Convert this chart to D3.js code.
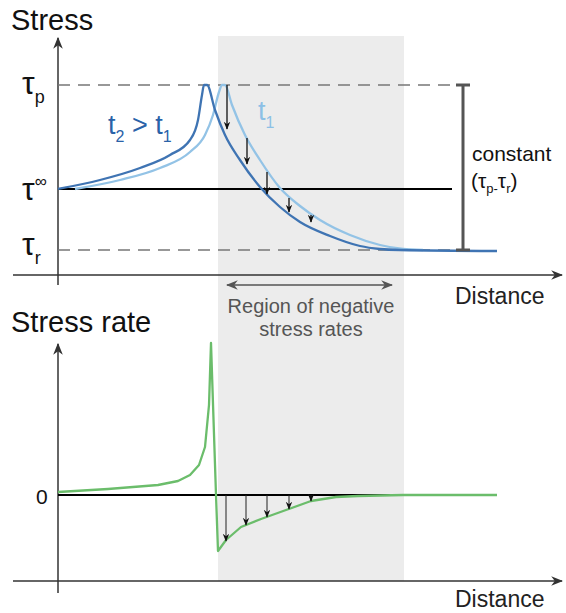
<!DOCTYPE html>
<html><head><meta charset="utf-8">
<script src="https://cdn.jsdelivr.net/npm/d3@7"></script>
<style>body{margin:0;background:#fff}text{font-family:"Liberation Sans",Arial,sans-serif}</style>
</head><body>
<script>
// distance is in arbitrary units, stress and rate too
var stressT2 = [[0,61],[42,70],[82,82],[112,95],[132,110],[140,130],[144,155],[146,165],[149,165],[157,140],[167,115],[182,90],[202,63],[222,43],[242,28],[272,14],[302,4],[322,1],[342,0],[439,-1]];
var stressT1 = [[17,61],[62,70],[102,82],[132,98],[147,115],[155,135],[161,158],[164,165],[167,165],[174,145],[187,115],[202,90],[222,62],[242,44],[262,30],[292,15],[322,5],[345,1],[365,0]];
var stressArrows = [[169,165,121],[189,112,86],[209,78,56],[231,52,38],[253,35,28]];
var rate = [[0,3],[50,6],[100,10],[120,14],[132,20],[141,30],[147,48],[151,90],[153,152],[158,0],[160,-56],[168,-45],[183,-32],[203,-24],[228,-15],[253,-6],[278,-2],[300,-1],[345,0],[439,0]];
var rateArrows = [[168,0,-46],[188,0,-30],[209,0,-22],[231,0,-14],[253,0,-6]];
var levels = {tauP:165, tauInf:61, tauR:0};
var region = [160,346];

var svg = d3.select("body").append("svg").attr("width",566).attr("height",613);
var x = d3.scaleLinear().domain([0,500]).range([58,558]);
var yS = d3.scaleLinear().domain([0,165]).range([250,85]);
var yR = d3.scaleLinear().domain([0,152]).range([495,343]);

var defs = svg.append("defs");
function marker(id,color,size){
  defs.append("marker").attr("id",id).attr("viewBox","0 0 10 10").attr("refX",9).attr("refY",5)
    .attr("markerWidth",size).attr("markerHeight",size).attr("orient","auto-start-reverse").attr("markerUnits","userSpaceOnUse")
    .append("path").attr("d","M0,1 L10,5 L0,9 L3,5 Z").attr("fill",color);
}
marker("ax","#333",12); marker("ar","#111",8); marker("gr","#555",12);

svg.append("rect").attr("x",x(region[0])).attr("y",36).attr("width",x(region[1])-x(region[0])).attr("height",545).attr("fill","#ececec");

function axes(y0,yTop,yBot){
  svg.append("line").attr("x1",58).attr("x2",58).attr("y1",yBot).attr("y2",yTop).attr("stroke","#333").attr("stroke-width",1.5).attr("marker-end","url(#ax)");
  svg.append("line").attr("x1",13).attr("x2",562).attr("y1",y0).attr("y2",y0).attr("stroke","#333").attr("stroke-width",1.5).attr("marker-end","url(#ax)");
}
axes(275,38,285); axes(581,344,593);

[levels.tauP,levels.tauR].forEach(function(v){
  svg.append("line").attr("x1",x(0)).attr("x2",x(398)).attr("y1",yS(v)).attr("y2",yS(v)).attr("stroke","#777").attr("stroke-width",1.3).attr("stroke-dasharray","12,8");
});
svg.append("line").attr("x1",x(0)).attr("x2",x(394)).attr("y1",yS(levels.tauInf)).attr("y2",yS(levels.tauInf)).attr("stroke","#000").attr("stroke-width",1.8);
svg.append("line").attr("x1",x(0)).attr("x2",x(394)).attr("y1",yR(0)).attr("y2",yR(0)).attr("stroke","#000").attr("stroke-width",1.8);

var lineS = d3.line().x(function(d){return x(d[0]);}).y(function(d){return yS(d[1]);}).curve(d3.curveMonotoneX);
var lineR = d3.line().x(function(d){return x(d[0]);}).y(function(d){return yR(d[1]);});
svg.append("path").attr("d",lineS(stressT1)).attr("fill","none").attr("stroke","#93c3e6").attr("stroke-width",2.3);
svg.append("path").attr("d",lineS(stressT2)).attr("fill","none").attr("stroke","#3f74b3").attr("stroke-width",2.3);
svg.append("path").attr("d",lineR(rate)).attr("fill","none").attr("stroke","#6bbd6b").attr("stroke-width",2.3).attr("stroke-linejoin","round");

stressArrows.forEach(function(a){
  svg.append("line").attr("x1",x(a[0])).attr("x2",x(a[0])).attr("y1",yS(a[1])).attr("y2",yS(a[2])).attr("stroke","#111").attr("stroke-width",1.3).attr("marker-end","url(#ar)");
});
rateArrows.forEach(function(a){
  svg.append("line").attr("x1",x(a[0])).attr("x2",x(a[0])).attr("y1",yR(a[1])).attr("y2",yR(a[2])).attr("stroke","#222").attr("stroke-width",1).attr("marker-end","url(#ar)");
});

svg.append("line").attr("x1",463).attr("x2",463).attr("y1",yS(levels.tauP)).attr("y2",yS(levels.tauR)).attr("stroke","#555").attr("stroke-width",3);
[levels.tauP,levels.tauR].forEach(function(v){
  svg.append("line").attr("x1",456).attr("x2",470).attr("y1",yS(v)).attr("y2",yS(v)).attr("stroke","#555").attr("stroke-width",3);
});
svg.append("line").attr("x1",x(169)).attr("x2",x(334)).attr("y1",285).attr("y2",285).attr("stroke","#555").attr("stroke-width",1.5)
  .attr("marker-start","url(#gr)").attr("marker-end","url(#gr)");

function txt(s,xx,yy,size,color,anchor){
  return svg.append("text").attr("x",xx).attr("y",yy).attr("font-size",size).attr("fill",color||"#111").attr("text-anchor",anchor||"start").text(s);
}
txt("Stress",11,30,29); txt("Stress rate",11,332,29);
txt("Distance",455,304,23,"#222"); txt("Distance",455,607,23,"#222");
txt("Region of negative",311,313,20,"#555","middle"); txt("stress rates",311,336,20,"#555","middle");
txt("0",36,504,21);
txt("constant",472,161,21);
var c = svg.append("text").attr("x",471).attr("y",188).attr("font-size",21).attr("fill","#111");
c.append("tspan").text("(τ"); c.append("tspan").attr("font-size",13).attr("dy",5).text("p-");
c.append("tspan").attr("dy",-5).text("τ"); c.append("tspan").attr("font-size",13).attr("dy",5).text("r");
c.append("tspan").attr("dy",-5).text(")");
function tau(sub,yy,sup){
  var t = svg.append("text").attr("x",22).attr("y",yy).attr("font-size",32).attr("fill","#111");
  t.append("tspan").text("τ");
  if(sup) t.append("tspan").attr("font-size",17).attr("dy",-13).text("∞");
  else t.append("tspan").attr("font-size",18).attr("dy",9).text(sub);
}
tau("p",yS(levels.tauP)+9); tau("",yS(levels.tauInf)+11,true); tau("r",yS(levels.tauR)+5);
var t2 = svg.append("text").attr("x",108).attr("y",134).attr("font-size",27).attr("fill","#2a62a8");
t2.append("tspan").text("t"); t2.append("tspan").attr("font-size",16).attr("dy",8).text("2");
t2.append("tspan").attr("dy",-8).text(" > t"); t2.append("tspan").attr("font-size",16).attr("dy",8).text("1");
var t1 = svg.append("text").attr("x",258).attr("y",120).attr("font-size",27).attr("fill","#8cc0e6");
t1.append("tspan").text("t"); t1.append("tspan").attr("font-size",16).attr("dy",8).text("1");
</script>
</body></html>
